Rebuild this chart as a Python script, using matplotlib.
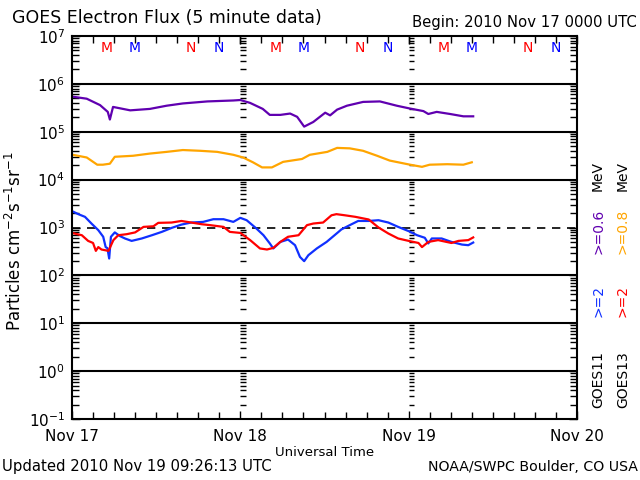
import numpy as np
import matplotlib.pyplot as plt
from matplotlib.ticker import LogLocator, FixedLocator, NullFormatter

# hours since 2010 Nov 17 00:00 UTC
t_06 = [0.1, 2.1, 4.0, 5.1, 5.4, 5.85, 8.3, 11.1, 13.5, 15.8, 19.3, 23.0, 24.0, 25.4, 27.2, 28.2, 29.7,
        31.1, 32.1, 33.1, 34.4, 36.1, 36.8, 37.8, 39.2, 41.5, 43.9, 46.3, 48.2, 50.1, 50.8, 52.0, 53.9,
        55.8, 57.2]
e_06 = [5.4e5, 4.9e5, 3.6e5, 2.6e5, 1.8e5, 3.3e5, 2.8e5, 3.0e5, 3.5e5, 3.9e5, 4.3e5, 4.5e5, 4.6e5, 4.0e5,
        3.0e5, 2.25e5, 2.25e5, 2.4e5, 2.05e5, 1.28e5, 1.6e5, 2.5e5, 2.2e5, 2.9e5, 3.5e5, 4.2e5, 4.3e5,
        3.5e5, 3.05e5, 2.7e5, 2.35e5, 2.6e5, 2.35e5, 2.1e5, 2.1e5]

t_08 = [0.1, 2.1, 3.6, 4.4, 5.4, 6.1, 8.7, 11.1, 13.5, 15.8, 18.3, 20.7, 23.0, 24.4, 25.8, 27.1, 28.5,
        30.1, 32.8, 33.9, 36.4, 37.8, 39.6, 41.5, 43.5, 45.3, 48.2, 49.9, 51.0, 53.5, 55.8, 57.0]
e_08 = [3.3e4, 2.9e4, 2.05e4, 2.05e4, 2.15e4, 3.0e4, 3.15e4, 3.5e4, 3.8e4, 4.15e4, 4.0e4, 3.8e4, 3.3e4,
        2.9e4, 2.3e4, 1.8e4, 1.8e4, 2.35e4, 2.7e4, 3.3e4, 3.8e4, 4.6e4, 4.5e4, 4.0e4, 3.15e4, 2.5e4,
        2.05e4, 1.85e4, 2.05e4, 2.1e4, 2.05e4, 2.3e4]

t_g11 = [0.0, 0.9, 1.85, 2.8, 3.75, 4.45, 4.8, 5.05, 5.3, 5.55, 6.1, 6.85, 7.55, 8.5, 9.95, 11.4, 12.8,
         14.2, 15.6, 17.0, 18.7, 20.15, 21.6, 23.0, 24.0, 24.9, 26.3, 27.3, 28.2, 28.7, 29.7, 30.8, 31.8,
         32.5, 33.1, 33.7, 34.9, 36.3, 38.0, 38.4, 39.6, 40.8, 42.3, 43.7, 45.1, 46.5, 48.0, 49.2, 50.3,
         50.8, 51.3, 52.7, 54.1, 55.6, 56.5, 57.2]
e_g11 = [2200, 1900, 1670, 1200, 880, 640, 390, 370, 225, 640, 790, 660, 590, 525, 590, 690, 810,
         980, 1150, 1270, 1310, 1490, 1490, 1310, 1590, 1420, 950, 690, 465, 365, 500, 560, 427,
         243, 198, 264, 365, 500, 810, 910, 1120, 1370, 1370, 1420, 1270, 1030, 840, 690, 610,
         465, 590, 590, 500, 440, 427, 485]

t_g13 = [0.0, 1.4, 2.3, 3.0, 3.4, 3.75, 4.2, 5.2, 5.9, 6.6, 7.8, 9.0, 10.2, 11.6, 12.3, 14.2, 15.6,
         17.0, 18.5, 19.7, 21.6, 22.5, 24.0, 25.4, 26.8, 27.8, 28.7, 29.7, 30.8, 32.3, 33.5, 34.4, 35.8,
         37.0, 37.7, 38.9, 40.4, 42.3, 43.7, 45.1, 46.5, 48.0, 49.4, 49.9, 50.8, 52.2, 54.1, 55.1, 56.5,
         57.2]
e_g13 = [770, 690, 525, 475, 325, 390, 347, 325, 545, 690, 725, 790, 1030, 1060, 1250, 1270, 1370,
         1270, 1170, 1120, 1030, 810, 770, 545, 365, 347, 375, 500, 640, 690, 1120, 1210, 1270,
         1800, 1900, 1800, 1670, 1470, 1000, 750, 590, 525, 475, 390, 500, 545, 475, 525, 545,
         620]

day_labels = ['Nov 17', 'Nov 18', 'Nov 19', 'Nov 20']
# local midnight / noon markers (hour of day UTC)
mn_letters = ['M', 'M', 'N', 'N']
mn_hours = [5, 9, 17, 21]
mn_colors = ['red', 'blue', 'red', 'blue']

purple = '#6000b0'
orange = '#ffa500'
blue = '#1030ff'
red = '#ff0000'

fig = plt.figure(figsize=(6.4, 4.8), dpi=100)
ax = fig.add_axes([72/640, 1-419/480, 505/640, 383/480])
ax.set_yscale('log')
ax.set_xlim(0, 72)
ax.set_ylim(0.1, 1e7)

for v in [1e6, 1e5, 1e4, 1e2, 1e1, 1e0]:
    ax.axhline(v, color='k', lw=1.5)
ax.axhline(1e3, color='k', lw=1.2, ls=(0, (5, 4)))

# small tick columns at day boundaries
minor_vals = [m*10.0**e for e in range(-1, 7) for m in range(2, 10)]
for d in [24, 48]:
    ax.hlines(minor_vals, d, d+0.75, color='k', lw=1)
    ax.plot([d, d], [7e6, 1e7], color='k', lw=1)

ax.plot(t_06, e_06, color=purple, lw=1.6)
ax.plot(t_08, e_08, color=orange, lw=1.6)
ax.plot(t_g11, e_g11, color=blue, lw=1.6)
ax.plot(t_g13, e_g13, color=red, lw=1.6)

for day in range(3):
    for letter, h, c in zip(mn_letters, mn_hours, mn_colors):
        ax.text(day*24 + h, 10**6.75, letter, color=c, fontsize=10, ha='center', va='center')

ax.xaxis.set_major_locator(FixedLocator([0, 24, 48, 72]))
ax.set_xticklabels(day_labels, fontsize=11)
ax.xaxis.set_minor_locator(FixedLocator(np.arange(0, 73, 3)))
ax.yaxis.set_minor_locator(LogLocator(base=10, subs=np.arange(2, 10), numticks=20))
ax.yaxis.set_minor_formatter(NullFormatter())
ax.set_yticks([10.0**e for e in range(-1, 8)])
ax.set_yticklabels(['10$^{%d}$' % e for e in range(-1, 8)], fontsize=11)
ax.tick_params(which='both', direction='in', top=True, right=True, width=1)
ax.tick_params(which='major', length=6)
ax.tick_params(which='minor', length=5)
ax.tick_params(axis='x', which='major', pad=7)
ax.tick_params(axis='y', which='major', pad=5)
for s in ax.spines.values():
    s.set_linewidth(1.5)

fig.text(12/640, 1-18/480, 'GOES Electron Flux (5 minute data)', fontsize=12.5, va='center')
fig.text(637/640, 1-22/480, 'Begin: 2010 Nov 17 0000 UTC', fontsize=10.7, ha='right', va='center')
fig.text(325/640, 1-452/480, 'Universal Time', fontsize=9.5, ha='center', va='center')
fig.text(2/640, 1-467/480, 'Updated 2010 Nov 19 09:26:13 UTC', fontsize=10.7, va='center')
fig.text(638/640, 1-467/480, 'NOAA/SWPC Boulder, CO USA', fontsize=10.2, ha='right', va='center')
fig.text(15/640, 1-241/480, 'Particles cm$^{-2}$s$^{-1}$sr$^{-1}$', fontsize=12, rotation=90,
         ha='center', va='center')

legend_cols = [
    (598, [('GOES11', 'black', 380), ('>=2', blue, 301), ('>=0.6', purple, 231), ('MeV', 'black', 176)]),
    (623, [('GOES13', 'black', 380), ('>=2', red, 301), ('>=0.8', orange, 231), ('MeV', 'black', 176)]),
]
for x, items in legend_cols:
    for txt, c, y in items:
        fig.text(x/640, 1-y/480, txt, color=c, fontsize=10, rotation=90, ha='center', va='center')

fig.savefig('out.png', dpi=100)
